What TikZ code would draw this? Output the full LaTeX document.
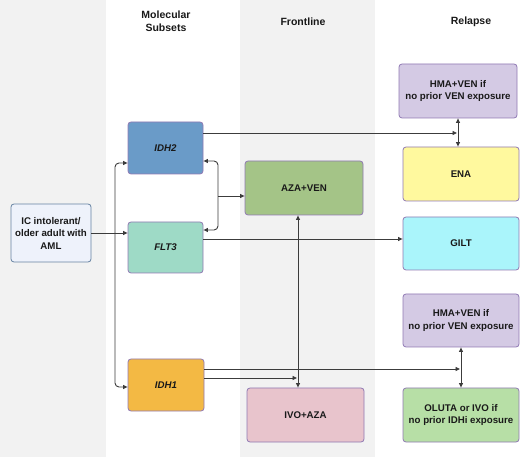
\documentclass[tikz,border=0pt]{standalone}
\usepackage{fontspec}
\setmainfont{Liberation Sans}
\usetikzlibrary{arrows.meta}
\definecolor{band}{HTML}{F2F2F2}
\definecolor{icfill}{HTML}{EEF2FB}
\definecolor{icdraw}{HTML}{6682A2}
\definecolor{boxdraw}{HTML}{9079B3}
\definecolor{cidhtwo}{HTML}{6A9BC8}
\definecolor{cflt}{HTML}{9EDAC6}
\definecolor{cidhone}{HTML}{F3B944}
\definecolor{cazaven}{HTML}{A4C487}
\definecolor{civo}{HTML}{E8C4CC}
\definecolor{chma}{HTML}{D4CAE4}
\definecolor{cena}{HTML}{FFF99E}
\definecolor{cgilt}{HTML}{AAF5FB}
\definecolor{coluta}{HTML}{B7DFA6}
\definecolor{linec}{HTML}{3C3C3C}
\tikzset{
  box/.style={draw=boxdraw, line width=0.8pt, rounded corners=3pt, inner sep=0pt,
    font=\fontsize{9.7}{12.5}\selectfont\bfseries, align=center, text=black!90},
  hdr/.style={font=\fontsize{10.5}{12.5}\selectfont\bfseries, align=center, text=black!90},
  conn/.style={draw=linec, line width=0.9pt, -{Triangle[length=4.5pt,width=4pt]}},
  conn2/.style={draw=linec, line width=0.9pt, {Triangle[length=4.5pt,width=4pt]}-{Triangle[length=4.5pt,width=4pt]}},
  plain/.style={draw=linec, line width=0.9pt}
}
\begin{document}
\begin{tikzpicture}[x=1pt,y=-1pt]
\useasboundingbox (0,0) rectangle (520,457);
% column bands
\fill[band] (0,0) rectangle (106,457);
\fill[band] (240,0) rectangle (375,457);
% headers
\node[hdr] (hmol) at (166,21) {Molecular\\Subsets};
\node[hdr] (hfront) at (303,22) {Frontline};
\node[hdr] (hrel) at (471,22) {Relapse};
% boxes
\node[box, draw=icdraw, fill=icfill, minimum width=80pt, minimum height=58pt] (ic) at (51,233) {IC intolerant/\\older adult with\\AML};
\node[box, fill=cidhtwo, minimum width=75pt, minimum height=52pt] (idh2) at (165.5,148) {\itshape IDH2};
\node[box, fill=cflt, minimum width=75pt, minimum height=51pt] (flt3) at (165.5,247.5) {\itshape FLT3};
\node[box, fill=cidhone, minimum width=76pt, minimum height=52pt] (idh1) at (166,385) {\itshape IDH1};
\node[box, fill=cazaven, minimum width=118pt, minimum height=54pt] (azaven) at (304,188) {AZA+VEN};
\node[box, fill=civo, minimum width=117pt, minimum height=54pt] (ivoaza) at (305.5,415) {IVO+AZA};
\node[box, fill=chma, minimum width=118pt, minimum height=54pt] (hma1) at (458,91) {HMA+VEN if\\no prior VEN exposure};
\node[box, fill=cena, minimum width=116pt, minimum height=54pt] (ena) at (461,174) {ENA};
\node[box, fill=cgilt, minimum width=116pt, minimum height=53pt] (gilt) at (461,243.5) {GILT};
\node[box, fill=chma, minimum width=116pt, minimum height=53pt] (hma2) at (461,320.5) {HMA+VEN if\\no prior VEN exposure};
\node[box, fill=coluta, minimum width=116pt, minimum height=54pt] (oluta) at (461,415) {OLUTA or IVO if\\no prior IDHi exposure};
% helper coordinates
\coordinate (split) at (115,233);
\coordinate (brk) at (218,196);
\coordinate (vA) at (458,133);
\coordinate (vB) at (461,369);
\coordinate (vC) at (298,378);
% connectors
\draw[conn] (ic.east) -- (ic.east -| flt3.west);
\draw[conn, rounded corners=4pt] (split) |- ([yshift=-15pt]idh2.west);
\draw[conn, rounded corners=4pt] (split) |- ([yshift=-2pt]idh1.west);
\draw[conn2, rounded corners=4pt] ([yshift=-13pt]idh2.east) -| (brk) |- ([yshift=17.5pt]flt3.east);
\draw[conn] (brk) -- (brk -| azaven.west);
\draw[conn] ([yshift=15pt]idh2.east) -- ([xshift=-1pt]vA);
\draw[conn2] (hma1.south) -- (hma1.south |- ena.north);
\draw[conn] ([yshift=8.5pt]flt3.east) -- ([yshift=8.5pt]flt3.east -| gilt.west);
\draw[conn2] (azaven.south -| vC) -- (ivoaza.north -| vC);
\draw[conn] ([yshift=16pt]idh1.east) -- ([xshift=-1pt]vB);
\draw[conn2] (hma2.south) -- (oluta.north);
\draw[conn] ([yshift=7pt]idh1.east) -- ([xshift=-1pt]vC);
\end{tikzpicture}
\end{document}
